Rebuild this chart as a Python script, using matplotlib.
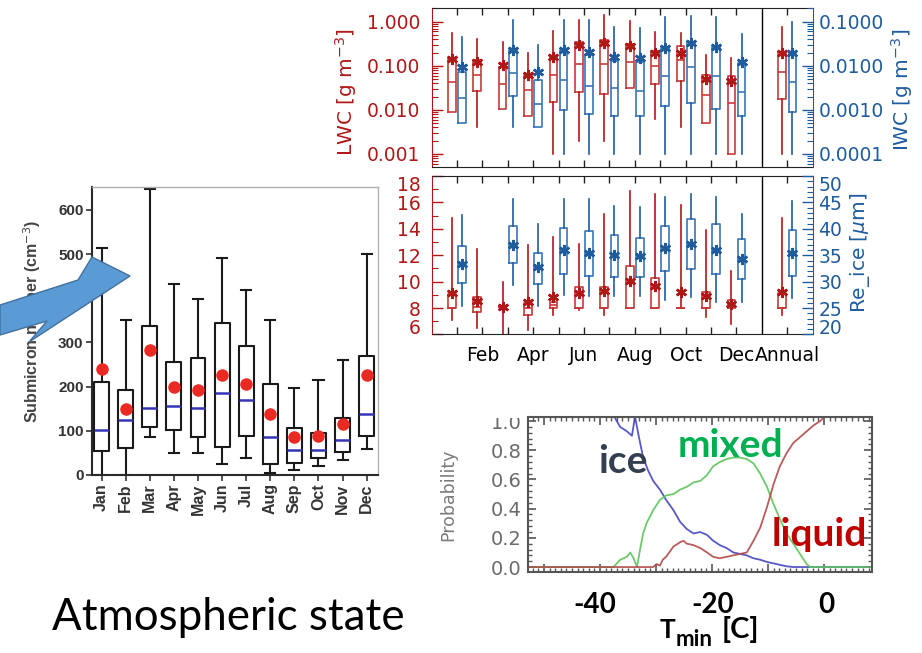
import matplotlib
matplotlib.use('Agg')
import matplotlib.pyplot as plt
import numpy as np
from matplotlib.ticker import (FixedLocator, FixedFormatter, MultipleLocator,
                               NullFormatter, NullLocator, LogLocator)
from matplotlib.patches import Polygon
from matplotlib.transforms import Bbox, TransformedBbox

# ---------------- data ----------------
months = ['Jan', 'Feb', 'Mar', 'Apr', 'May', 'Jun', 'Jul', 'Aug', 'Sep', 'Oct', 'Nov', 'Dec']

# submicron number concentration (cm^-3)
sub_lo = [0, 0, 85, 49, 49, 24, 38, 5, 11, 20, 34, 58]
sub_q1 = [55, 60, 109, 103, 85, 64, 88, 26, 28, 38, 51, 88]
sub_med = [103, 125, 151, 156, 151, 186, 170, 87, 57, 57, 79, 137]
sub_q3 = [211, 192, 337, 256, 264, 345, 293, 206, 106, 94, 128, 270]
sub_hi = [513, 351, 647, 432, 398, 492, 419, 351, 196, 215, 260, 500]
sub_mean = [241, 149, 283, 200, 192, 226, 205, 137, 85, 88, 115, 226]

# LWC (g m^-3), 12 months + Annual
lwc_lo = [0.0091, 0.0041, 0.0104, 0.0071, 0.001, 0.002, 0.002, 0.031, 0.0062, 0.0041, 0.005, 0.001, 0.001]
lwc_q1 = [0.0091, 0.0275, 0.0104, 0.0071, 0.0152, 0.0257, 0.023, 0.031, 0.038, 0.045, 0.005, 0.001, 0.0175]
lwc_med = [0.044, 0.061, 0.038, 0.028, 0.061, 0.11, 0.11, 0.12, 0.10, 0.135, 0.022, 0.0142, 0.071]
lwc_q3 = [0.141, 0.135, 0.092, 0.063, 0.158, 0.34, 0.39, 0.31, 0.22, 0.28, 0.063, 0.059, 0.21]
lwc_hi = [0.55, 0.40, 0.35, 0.19, 0.60, 1.12, 1.43, 1.06, 0.58, 0.55, 0.18, 0.148, 0.77]
lwc_mean = [0.14, 0.123, 0.105, 0.061, 0.158, 0.29, 0.32, 0.28, 0.19, 0.20, 0.05, 0.046, 0.19]

# IWC (g m^-3)
iwc_lo = [0.0005, None, 0.00041, 0.00041, 0.0001, 0.0001, 0.0001, 0.0001, 0.0001, 0.0001, 0.0001, 0.0001, 0.0001]
iwc_q1 = [0.0005, None, 0.0021, 0.00041, 0.001, 0.00082, 0.00071, 0.00071, 0.0012, 0.0014, 0.00104, 0.00071, 0.00091]
iwc_med = [0.00186, None, 0.007, 0.00138, 0.0048, 0.0034, 0.0031, 0.00275, 0.0059, 0.0095, 0.0059, 0.0026, 0.0043]
iwc_q3 = [0.0073, None, 0.023, 0.0048, 0.023, 0.018, 0.013, 0.012, 0.025, 0.035, 0.027, 0.0115, 0.02]
iwc_hi = [0.046, None, 0.11, 0.030, 0.11, 0.11, 0.075, 0.071, 0.126, 0.135, 0.126, 0.053, 0.10]
iwc_mean = [0.0096, None, 0.023, 0.0071, 0.023, 0.021, 0.0158, 0.0148, 0.025, 0.032, 0.026, 0.0125, 0.02]

# Re liquid (left axis)
rel_lo = [7.07, 6.49, 5.5, 6.31, 7.47, 7.82, 7.5, 8.0, 8.0, 8.0, 7.29, 6.81, 7.5]
rel_q1 = [8.0, 7.67, 8.05, 7.47, 8.0, 8.0, 8.0, 8.0, 8.0, 8.0, 8.0, 8.0, 8.0]
rel_med = [8.0, 8.08, 8.05, 8.0, 8.2, 8.0, 8.0, 8.0, 8.0, 8.0, 8.0, 8.3, 8.0]
rel_q3 = [9.08, 8.81, 8.05, 8.38, 8.45, 9.59, 9.59, 11.2, 10.27, 8.0, 9.21, 8.58, 9.17]
rel_hi = [14.81, 12.49, 9.97, 12.79, 13.37, 12.87, 15.11, 16.9, 16.63, 15.82, 13.93, 10.77, 14.83]
rel_mean = [9.13, 8.5, 8.08, 8.45, 8.83, 9.13, 9.26, 10.02, 9.64, 9.19, 8.93, 8.33, 9.25]

# Re ice (right axis, um)
rei_lo = [25.3, None, 29.4, 25.4, 27.5, 27.3, 27.3, 27.3, 26.6, 27.1, 26.1, 26.1, 26.9]
rei_q1 = [29.7, None, 33.5, 29.5, 31.5, 31.0, 30.9, 30.8, 32.1, 32.4, 31.4, 30.5, 31.1]
rei_med = [33.4, None, 37.0, 32.7, 36.0, 35.4, 35.0, 34.8, 36.3, 37.2, 36.0, 34.3, 35.4]
rei_q3 = [36.7, None, 40.5, 35.5, 40.1, 39.6, 38.8, 38.3, 40.6, 41.8, 41.0, 38.1, 39.7]
rei_hi = [42.6, None, 45.7, 41.0, 45.7, 45.6, 44.4, 44.2, 46.0, 46.5, 46.1, 42.8, 45.3]
rei_mean = [33.4, None, 37.0, 32.7, 36.0, 35.4, 35.0, 34.8, 36.3, 37.2, 36.0, 34.3, 35.4]

period_labels = ['', 'Feb', '', 'Apr', '', 'Jun', '', 'Aug', '', 'Oct', '', 'Dec', 'Annual']
period_pos = [1, 2, 3, 4, 5, 6, 7, 8, 9, 10, 11, 12, 14]

# phase probability vs T_min
ice_T = [-37.6, -36.4, -35.2, -34.3, -33.75, -33.1, -32.3, -31.4, -30.5, -29.3, -28.2, -26.9, -25.7,
         -24.5, -23.3, -22.1, -20.9, -19.8, -18.6, -17.4, -16.2, -15.0, -13.8, -12.6, -11.4, -10.2,
         -9.0, -7.9, -6.7, -5.5, 8.5]
ice_p = [1.04, 0.96, 0.93, 0.90, 1.03, 0.90, 0.75, 0.66, 0.59, 0.53, 0.46, 0.39, 0.31,
         0.26, 0.23, 0.24, 0.22, 0.18, 0.15, 0.13, 0.10, 0.09, 0.08, 0.06, 0.05, 0.035,
         0.025, 0.015, 0.005, 0.0, 0.0]
mixed_T = [-52.8, -37.6, -36.4, -35.2, -34.6, -34.0, -33.4, -32.9, -32.3, -31.7, -30.5, -29.3, -28.2,
           -26.9, -25.7, -24.5, -23.3, -22.1, -20.9, -19.8, -18.6, -17.4, -16.2, -15.0, -13.8, -12.6,
           -11.4, -10.2, -9.0, -7.9, -6.7, -5.5, -4.3, -3.1, -2.5, 8.5]
mixed_p = [0.0, 0.0, 0.05, 0.07, 0.10, 0.06, 0.0, 0.11, 0.23, 0.30, 0.39, 0.46, 0.49,
           0.50, 0.53, 0.55, 0.58, 0.59, 0.63, 0.69, 0.72, 0.74, 0.75, 0.75, 0.74, 0.71,
           0.64, 0.55, 0.43, 0.33, 0.23, 0.16, 0.09, 0.02, 0.0, 0.0]
liquid_T = [-52.8, -30.5, -29.9, -29.3, -28.8, -28.2, -26.9, -25.7, -25.1, -24.5, -23.3, -22.1, -20.9,
            -19.8, -18.6, -17.4, -16.2, -15.0, -13.8, -12.6, -11.4, -10.2, -9.0, -7.9, -6.7, -5.5,
            -4.3, -3.1, -1.9, -0.7, 0.3]
liquid_p = [0.0, 0.0, 0.02, 0.01, 0.05, 0.07, 0.14, 0.17, 0.18, 0.16, 0.15, 0.13, 0.10,
            0.07, 0.06, 0.07, 0.08, 0.09, 0.10, 0.18, 0.27, 0.41, 0.57, 0.69, 0.78, 0.85,
            0.89, 0.93, 0.97, 1.0, 1.04]

# ---------------- styling ----------------
RED = '#B01818'
RED_BOX = '#C83A3A'
BLUE = '#1F5C9E'
BLUE_BOX = '#3A76B6'
W, H = 922, 653
TICK_FS = 13.5

plt.rcParams['font.family'] = ['DejaVu Sans']
fig = plt.figure(figsize=(W / 100, H / 100), dpi=100)
fig.patch.set_facecolor('white')


def px_axes(l, t, r, b, **kw):
    return fig.add_axes([l / W, 1 - b / H, (r - l) / W, (b - t) / H], **kw)


def make_stats(lo, q1, med, q3, hi, mean):
    out = []
    for a, b, c, d, e, f in zip(lo, q1, med, q3, hi, mean):
        if a is None:
            out.append(None)
        else:
            out.append(dict(whislo=a, q1=b, med=c, q3=d, whishi=e, mean=f, fliers=[]))
    return out


def draw_boxes(ax, stats, xs, offset, box_c, whisk_c, star_c):
    sel = [(s, x + offset) for s, x in zip(stats, xs) if s is not None]
    ax.bxp([s for s, _ in sel], positions=[p for _, p in sel], widths=0.3,
           showcaps=False, showmeans=True, showfliers=False, manage_ticks=False,
           boxprops=dict(color=box_c, lw=1.2),
           whiskerprops=dict(color=whisk_c, lw=1.2),
           medianprops=dict(color=box_c, lw=1.2),
           meanprops=dict(marker=(6, 2, 0), markersize=8, markeredgewidth=1.8,
                          markeredgecolor=star_c, markerfacecolor=star_c, linestyle='none'))


# ---------------- left: submicron number boxplot ----------------
ax_s = px_axes(92, 187, 378, 475)
pos = np.arange(1, 13)
sub_stats = make_stats(sub_lo, sub_q1, sub_med, sub_q3, sub_hi, sub_mean)
ax_s.bxp(sub_stats, positions=pos, widths=0.62, capwidths=0.42, showmeans=True,
         showfliers=False, manage_ticks=False,
         boxprops=dict(color='#1a1a1a', lw=1.5),
         whiskerprops=dict(color='#1a1a1a', lw=1.5),
         capprops=dict(color='#1a1a1a', lw=1.5),
         medianprops=dict(color='#3535b5', lw=1.8),
         meanprops=dict(marker='o', markersize=8, markerfacecolor='#ec2a24',
                        markeredgecolor='#ec2a24', linestyle='none'))
ax_s.set_xlim(0.6, 12.47)
ax_s.set_ylim(0, 652)
ax_s.set_yticks([0, 100, 200, 300, 400, 500, 600])
ax_s.set_xticks(pos)
ax_s.set_xticklabels(months, rotation=90, fontsize=11.5, fontweight='bold',
                     color='#333333', family='Liberation Sans')
for lbl in ax_s.get_yticklabels():
    lbl.set_fontsize(11)
    lbl.set_fontweight('bold')
    lbl.set_color('#333333')
    lbl.set_family('Liberation Sans')
ax_s.tick_params(axis='both', direction='out', length=4, width=1.2, color='#333333', pad=2)
for side in ['left', 'bottom']:
    ax_s.spines[side].set_color('#2a2a2a')
    ax_s.spines[side].set_linewidth(1.5)
for side in ['top', 'right']:
    ax_s.spines[side].set_color('#b0b0b0')
    ax_s.spines[side].set_linewidth(1.0)

# ---------------- upper right: LWC / IWC ----------------
ax_u = px_axes(431.5, 8.3, 812.7, 166.7)
ax_u.set_yscale('log')
ax_u.set_xlim(0, 15)
ax_u.set_ylim(5.15e-4, 2.01)
lwc_stats = make_stats(lwc_lo, lwc_q1, lwc_med, lwc_q3, lwc_hi, lwc_mean)
draw_boxes(ax_u, lwc_stats, period_pos, -0.2, RED_BOX, RED, RED)
ax_u.axvline(13, color='black', lw=1.0)

ax_u.xaxis.set_major_locator(FixedLocator(period_pos))
ax_u.xaxis.set_minor_locator(NullLocator())
ax_u.tick_params(axis='x', which='major', direction='in', top=True, bottom=True,
                 labelbottom=False, length=5, width=1, color='#222222')
ax_u.yaxis.set_major_locator(FixedLocator([1e-3, 1e-2, 1e-1, 1.0]))
ax_u.yaxis.set_major_formatter(FixedFormatter(['0.001', '0.010', '0.100', '1.000']))
ax_u.yaxis.set_minor_locator(LogLocator(base=10, subs=np.arange(2, 10), numticks=20))
ax_u.yaxis.set_minor_formatter(NullFormatter())
ax_u.tick_params(axis='y', which='major', direction='in', length=8, width=1,
                 colors=RED, labelsize=TICK_FS, pad=8, right=False)
ax_u.tick_params(axis='y', which='minor', direction='in', length=4, width=0.8,
                 color=RED, right=False)
ax_u.spines['left'].set_color(RED)
ax_u.spines['right'].set_visible(False)
for s in ['top', 'bottom']:
    ax_u.spines[s].set_color('#222222')

ax_u2 = ax_u.twinx()
ax_u2.set_yscale('log')
ax_u2.set_ylim(5.15e-5, 0.201)
iwc_stats = make_stats(iwc_lo, iwc_q1, iwc_med, iwc_q3, iwc_hi, iwc_mean)
draw_boxes(ax_u2, iwc_stats, period_pos, 0.2, BLUE_BOX, BLUE, BLUE)
ax_u2.yaxis.set_major_locator(FixedLocator([1e-4, 1e-3, 1e-2, 1e-1]))
ax_u2.yaxis.set_major_formatter(FixedFormatter(['0.0001', '0.0010', '0.0100', '0.1000']))
ax_u2.yaxis.set_minor_locator(LogLocator(base=10, subs=np.arange(2, 10), numticks=20))
ax_u2.yaxis.set_minor_formatter(NullFormatter())
ax_u2.tick_params(axis='y', which='major', direction='in', length=8, width=1,
                  colors=BLUE, labelsize=TICK_FS, pad=4)
ax_u2.tick_params(axis='y', which='minor', direction='in', length=4, width=0.8, color=BLUE)
ax_u2.spines['right'].set_color(BLUE)
for s in ['left', 'top', 'bottom']:
    ax_u2.spines[s].set_visible(False)

# ---------------- lower right: effective radius ----------------
ax_l = px_axes(431.5, 176, 812.7, 334.5)
ax_l.set_xlim(0, 15)
ax_l.set_ylim(6, 18)
rel_stats = make_stats(rel_lo, rel_q1, rel_med, rel_q3, rel_hi, rel_mean)
draw_boxes(ax_l, rel_stats, period_pos, -0.2, RED_BOX, RED, RED)
ax_l.axvline(13, color='black', lw=1.0)
ax_l.xaxis.set_major_locator(FixedLocator(period_pos))
ax_l.xaxis.set_major_formatter(FixedFormatter(period_labels))
ax_l.xaxis.set_minor_locator(NullLocator())
ax_l.tick_params(axis='x', which='major', direction='in', top=True, bottom=True,
                 length=5, width=1, color='#222222', labelsize=TICK_FS, pad=8)
ax_l.yaxis.set_major_locator(MultipleLocator(2))
ax_l.yaxis.set_minor_locator(MultipleLocator(1))
ax_l.tick_params(axis='y', which='major', direction='in', length=8, width=1,
                 colors=RED, labelsize=TICK_FS, pad=8, right=False)
ax_l.tick_params(axis='y', which='minor', direction='in', length=4, width=0.8,
                 color=RED, right=False)
ax_l.spines['left'].set_color(RED)
ax_l.spines['right'].set_visible(False)
for s in ['top', 'bottom']:
    ax_l.spines[s].set_color('#222222')

ax_l2 = ax_l.twinx()
ax_l2.set_ylim(20, 50)
rei_stats = make_stats(rei_lo, rei_q1, rei_med, rei_q3, rei_hi, rei_mean)
draw_boxes(ax_l2, rei_stats, period_pos, 0.2, BLUE_BOX, BLUE, BLUE)
ax_l2.yaxis.set_major_locator(MultipleLocator(5))
ax_l2.yaxis.set_minor_locator(MultipleLocator(1))
ax_l2.tick_params(axis='y', which='major', direction='in', length=8, width=1,
                  colors=BLUE, labelsize=TICK_FS, pad=4)
ax_l2.tick_params(axis='y', which='minor', direction='in', length=4, width=0.8, color=BLUE)
ax_l2.spines['right'].set_color(BLUE)
for s in ['left', 'top', 'bottom']:
    ax_l2.spines[s].set_visible(False)

fig.canvas.draw()
# keep the extreme tick labels inside the panel like the original
for ax in (ax_l, ax_l2):
    ticks = ax.yaxis.get_major_ticks()
    locs = ax.yaxis.get_majorticklocs()
    lo_, hi_ = ax.get_ylim()
    for tk, loc in zip(ticks, locs):
        if abs(loc - hi_) < 1e-6:
            tk.label1.set_va('top'); tk.label2.set_va('top')
        elif abs(loc - lo_) < 1e-6:
            tk.label1.set_va('baseline'); tk.label2.set_va('baseline')

# ---------------- bottom right: phase probability ----------------
ax_p = px_axes(528.3, 417, 871.7, 572)
ax_p.plot(ice_T, ice_p, color='#4646c0', lw=1.3, alpha=0.9)
ax_p.plot(mixed_T, mixed_p, color='#5cc45c', lw=1.3, alpha=0.9)
ax_p.plot(liquid_T, liquid_p, color='#b24a4a', lw=1.3, alpha=0.9)
ax_p.set_xlim(-52.8, 8.5)
ax_p.set_ylim(-0.034, 1.028)
ax_p.yaxis.set_major_locator(FixedLocator([0.0, 0.2, 0.4, 0.6, 0.8, 1.0]))
ax_p.yaxis.set_major_formatter(FixedFormatter(['0.0', '0.2', '0.4', '0.6', '0.8', '1.0']))
ax_p.yaxis.set_minor_locator(MultipleLocator(0.04))
ax_p.xaxis.set_major_locator(MultipleLocator(10))
ax_p.xaxis.set_minor_locator(MultipleLocator(1))
ax_p.xaxis.set_major_formatter(NullFormatter())
ax_p.tick_params(axis='both', which='major', direction='in', length=6, width=1.2,
                 color='#555555', top=True, right=True)
ax_p.tick_params(axis='both', which='minor', direction='in', length=3, width=1.0,
                 color='#555555', top=True, right=True)
ax_p.tick_params(axis='y', labelsize=14, labelcolor='#6a6a6a', pad=5)
for s in ax_p.spines.values():
    s.set_color('#555555')
    s.set_linewidth(1.5)
ax_p.set_ylabel('Probability', fontsize=12.5, color='#7a7a7a', labelpad=24)
clip = TransformedBbox(Bbox([[0, 0], [1, 1 - 418 / H]]), fig.transFigure)
for tk, loc in zip(ax_p.yaxis.get_major_ticks(), ax_p.yaxis.get_majorticklocs()):
    if abs(loc - 1.0) < 1e-6:
        tk.label1.set_clip_box(clip)
        tk.label1.set_clip_on(True)

# ---------------- overlay (slide annotations) ----------------
ov = px_axes(0, 0, W, H)
ov.set_zorder(10)
ov.set_xlim(0, W)
ov.set_ylim(H, 0)
ov.axis('off')
ov.patch.set_visible(False)

ov.text(32, 321, 'Submicron number (cm$^{-3}$)', rotation=90, ha='center', va='center',
        fontsize=11.5, fontweight='bold', color='#444444', family='Liberation Sans', zorder=1)
arrow = Polygon([(0, 305), (78, 280), (92, 257), (130, 276), (29, 342), (47, 321), (0, 335)],
                closed=True, facecolor='#5B9BD5', edgecolor='#41719C', lw=1.0, zorder=2)
ov.add_patch(arrow)

ov.text(346, 92, 'LWC [g m$^{-3}$]', rotation=90, ha='center', va='center',
        fontsize=14.5, color=RED)
ov.text(902, 90, 'IWC [g m$^{-3}$]', rotation=90, ha='center', va='center',
        fontsize=14.5, color=BLUE)
ov.text(860, 253, 'Re_ice [$\\mu$m]', rotation=90, ha='center', va='center',
        fontsize=14.5, color=BLUE)

ov.text(52, 630, 'Atmospheric state', fontsize=31.6, family='Lato', color='black',
        ha='left', va='baseline')

ov.text(598, 473, 'ice', fontsize=28, family='Lato', fontweight='bold', color='#333F50',
        ha='left', va='baseline')
ov.text(678, 457, 'mixed', fontsize=28, family='Lato', fontweight='bold', color='#00B050',
        ha='left', va='baseline')
ov.text(772, 546, 'liquid', fontsize=28, family='Lato', fontweight='bold', color='#C00000',
        ha='left', va='baseline')

ov.text(595, 613, '-40', fontsize=20, family='Lato', fontweight='bold', ha='center', va='baseline')
ov.text(713, 613, '-20', fontsize=20, family='Lato', fontweight='bold', ha='center', va='baseline')
ov.text(826.7, 613, '0', fontsize=20, family='Lato', fontweight='bold', ha='center', va='baseline')
ov.text(660, 638, 'T', fontsize=19, family='Lato', fontweight='bold', ha='left', va='baseline')
ov.text(676, 646, 'min', fontsize=16, family='Lato', fontweight='bold', ha='left', va='baseline')
ov.text(722, 638, '[C]', fontsize=21, family='Lato', fontweight='bold', ha='left', va='baseline')

fig.savefig('out.png', dpi=100, facecolor='white')
